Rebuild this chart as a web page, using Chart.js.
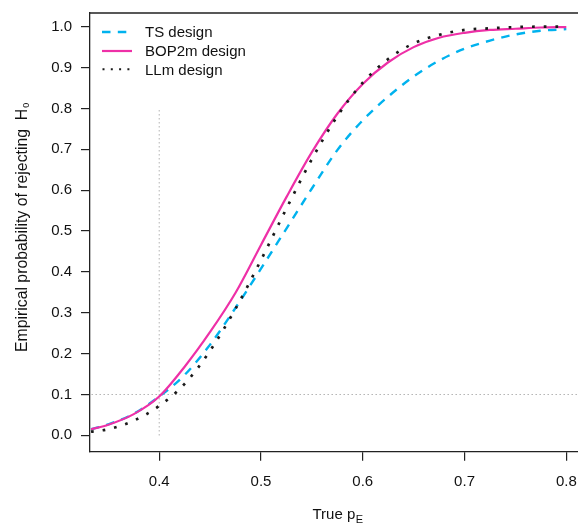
<!DOCTYPE html>
<html>
<head>
<meta charset="utf-8">
<script src="https://cdn.jsdelivr.net/npm/chart.js@4/dist/chart.umd.min.js"></script>
<style>
  html, body { margin: 0; padding: 0; background: #fff; overflow: hidden; }
  #wrap { width: 578px; height: 523px; overflow: hidden; }
</style>
</head>
<body>
<div id="wrap"><canvas id="power" width="600" height="523"></canvas></div>
<script>
'use strict';

// --- data: empirical rejection probability vs. true p_E ---------------------

const pE = [0.333, 0.35, 0.375, 0.4, 0.425, 0.45, 0.475, 0.5, 0.525, 0.55,
            0.575, 0.6, 0.625, 0.65, 0.675, 0.7, 0.725, 0.75, 0.775, 0.8];

const tsDesign = [0.015, 0.027, 0.053, 0.095, 0.148, 0.222, 0.312, 0.408, 0.506, 0.604,
                  0.698, 0.771, 0.829, 0.878, 0.917, 0.946, 0.966, 0.981, 0.990, 0.994];

const bop2mDesign = [0.015, 0.026, 0.052, 0.095, 0.168, 0.253, 0.349, 0.466, 0.583, 0.693,
                     0.787, 0.860, 0.913, 0.950, 0.973, 0.985, 0.992, 0.995, 0.998, 0.999];

const llmDesign = [0.009, 0.015, 0.036, 0.072, 0.126, 0.207, 0.310, 0.429, 0.555, 0.676,
                   0.781, 0.863, 0.921, 0.959, 0.980, 0.992, 0.996, 0.999, 1.0, 1.0];

const seriesNames = ['TS design', 'BOP2m design', 'LLm design'];

const xTicks = [0.4, 0.5, 0.6, 0.7, 0.8];
const yTicks = [0.0, 0.1, 0.2, 0.3, 0.4, 0.5, 0.6, 0.7, 0.8, 0.9, 1.0];

// reference lines: target p_E and nominal alpha
const refP = 0.4;
const refTop = 0.8;
const alpha = 0.1;

// --- look ---------------------------------------------------------------------

const C = {
  ts:    '#00B2EE',
  bop:   '#EE30A7',
  llm:   '#1a1a1a',
  ref:   '#8c8c8c',
  axis:  '#222222',
  text:  '#111111',
};
const FONT = "'Liberation Sans', Arimo, Arial, Helvetica, sans-serif";

const TS_DASH = [8.5, 7.3];
const LLM_DASH = [2.7, 9.0];

function pts(ys) {
  return pE.map(function(x, i) { return { x: x, y: ys[i] }; });
}

// box edges, axis titles and legend (with subscripts)
const decorations = {
  id: 'decorations',
  afterDraw(chart) {
    const ctx = chart.ctx;
    const a = chart.chartArea;
    ctx.save();

    // top and right edges of the box
    ctx.strokeStyle = C.axis;
    ctx.lineWidth = 1.3;
    ctx.beginPath();
    ctx.moveTo(a.left, a.top);
    ctx.lineTo(a.right, a.top);
    ctx.lineTo(a.right, a.bottom);
    ctx.stroke();

    ctx.fillStyle = C.text;
    ctx.textAlign = 'left';
    ctx.textBaseline = 'alphabetic';

    // x title: True p_E
    ctx.font = '15px ' + FONT;
    const xt = 'True p';
    ctx.fillText(xt, 312.5, 518.7);
    const w = ctx.measureText(xt).width;
    ctx.font = '11px ' + FONT;
    ctx.fillText('E', 312.5 + w + 0.5, 522.7);

    // y title: Empirical probability of rejecting H_0
    ctx.translate(26.7, 352);
    ctx.rotate(-Math.PI / 2);
    ctx.font = '15.8px ' + FONT;
    const yt = 'Empirical probability of rejecting  H';
    ctx.fillText(yt, 0, 0);
    const wy = ctx.measureText(yt).width;
    ctx.font = '9px ' + FONT;
    ctx.fillText('0', wy + 1, 2);
    ctx.setTransform(1, 0, 0, 1, 0, 0);

    // legend
    const rows = [
      { y: 32,   color: C.ts,  dash: [8.5, 7.3], width: 2.4, x0: 102 },
      { y: 51,   color: C.bop, dash: [],         width: 2.2, x0: 102 },
      { y: 69.3, color: C.llm, dash: [2, 6.3],   width: 2.0, x0: 102.5 },
    ];
    rows.forEach(function(r, i) {
      ctx.strokeStyle = r.color;
      ctx.lineWidth = r.width;
      ctx.setLineDash(r.dash);
      ctx.beginPath();
      ctx.moveTo(r.x0, r.y);
      ctx.lineTo(132, r.y);
      ctx.stroke();
      ctx.setLineDash([]);
      ctx.font = '15px ' + FONT;
      ctx.fillStyle = C.text;
      ctx.fillText(seriesNames[i], 145, r.y + 5.3);
    });

    ctx.restore();
  }
};

function lineSet(label, ys, color, dash, width, order) {
  return {
    label: label,
    data: pts(ys),
    borderColor: color,
    borderWidth: width,
    borderDash: dash,
    pointRadius: 0,
    cubicInterpolationMode: 'monotone',
    fill: false,
    order: order,
  };
}

function refSet(data) {
  return {
    data: data,
    borderColor: C.ref,
    borderWidth: 1,
    borderDash: [1, 3],
    pointRadius: 0,
    tension: 0,
    fill: false,
    order: 5,
  };
}

new Chart(document.getElementById('power').getContext('2d'), {
  type: 'line',
  data: {
    datasets: [
      lineSet(seriesNames[0], tsDesign, C.ts, TS_DASH, 2.4, 2),
      lineSet(seriesNames[1], bop2mDesign, C.bop, [], 2.2, 1),
      lineSet(seriesNames[2], llmDesign, C.llm, LLM_DASH, 2.7, 0),
      refSet([{ x: refP, y: 0 }, { x: refP, y: refTop }]),
      refSet([{ x: 0.2, y: alpha }, { x: 1.0, y: alpha }]),
    ],
  },
  options: {
    responsive: false,
    animation: false,
    devicePixelRatio: 1,
    layout: { padding: { top: 13, right: 12, left: 0, bottom: 0 } },
    plugins: { legend: { display: false }, tooltip: { enabled: false } },
    scales: {
      x: {
        type: 'linear',
        min: 0.332,
        max: 0.8213,
        afterBuildTicks: function(s) { s.ticks = xTicks.map(function(v) { return { value: v }; }); },
        afterFit: function(s) { s.height = 71.3; },
        ticks: {
          color: C.text,
          font: { family: FONT, size: 15 },
          padding: 12,
          maxRotation: 0,
          callback: function(v) { return v.toFixed(1); },
        },
        grid: { drawOnChartArea: false, drawTicks: true, tickLength: 9, color: C.axis, lineWidth: 1.2 },
        border: { display: true, color: C.axis, width: 1.3 },
      },
      y: {
        type: 'linear',
        min: -0.040,
        max: 1.0335,
        afterBuildTicks: function(s) { s.ticks = yTicks.map(function(v) { return { value: v }; }); },
        afterFit: function(s) { s.width = 90; },
        ticks: {
          color: C.text,
          font: { family: FONT, size: 15, lineHeight: 0.4 },
          padding: 9,
          callback: function(v) { return v.toFixed(1); },
        },
        grid: { drawOnChartArea: false, drawTicks: true, tickLength: 9, color: C.axis, lineWidth: 1.2 },
        border: { display: true, color: C.axis, width: 1.3 },
      },
    },
  },
  plugins: [decorations],
});
</script>
</body>
</html>
